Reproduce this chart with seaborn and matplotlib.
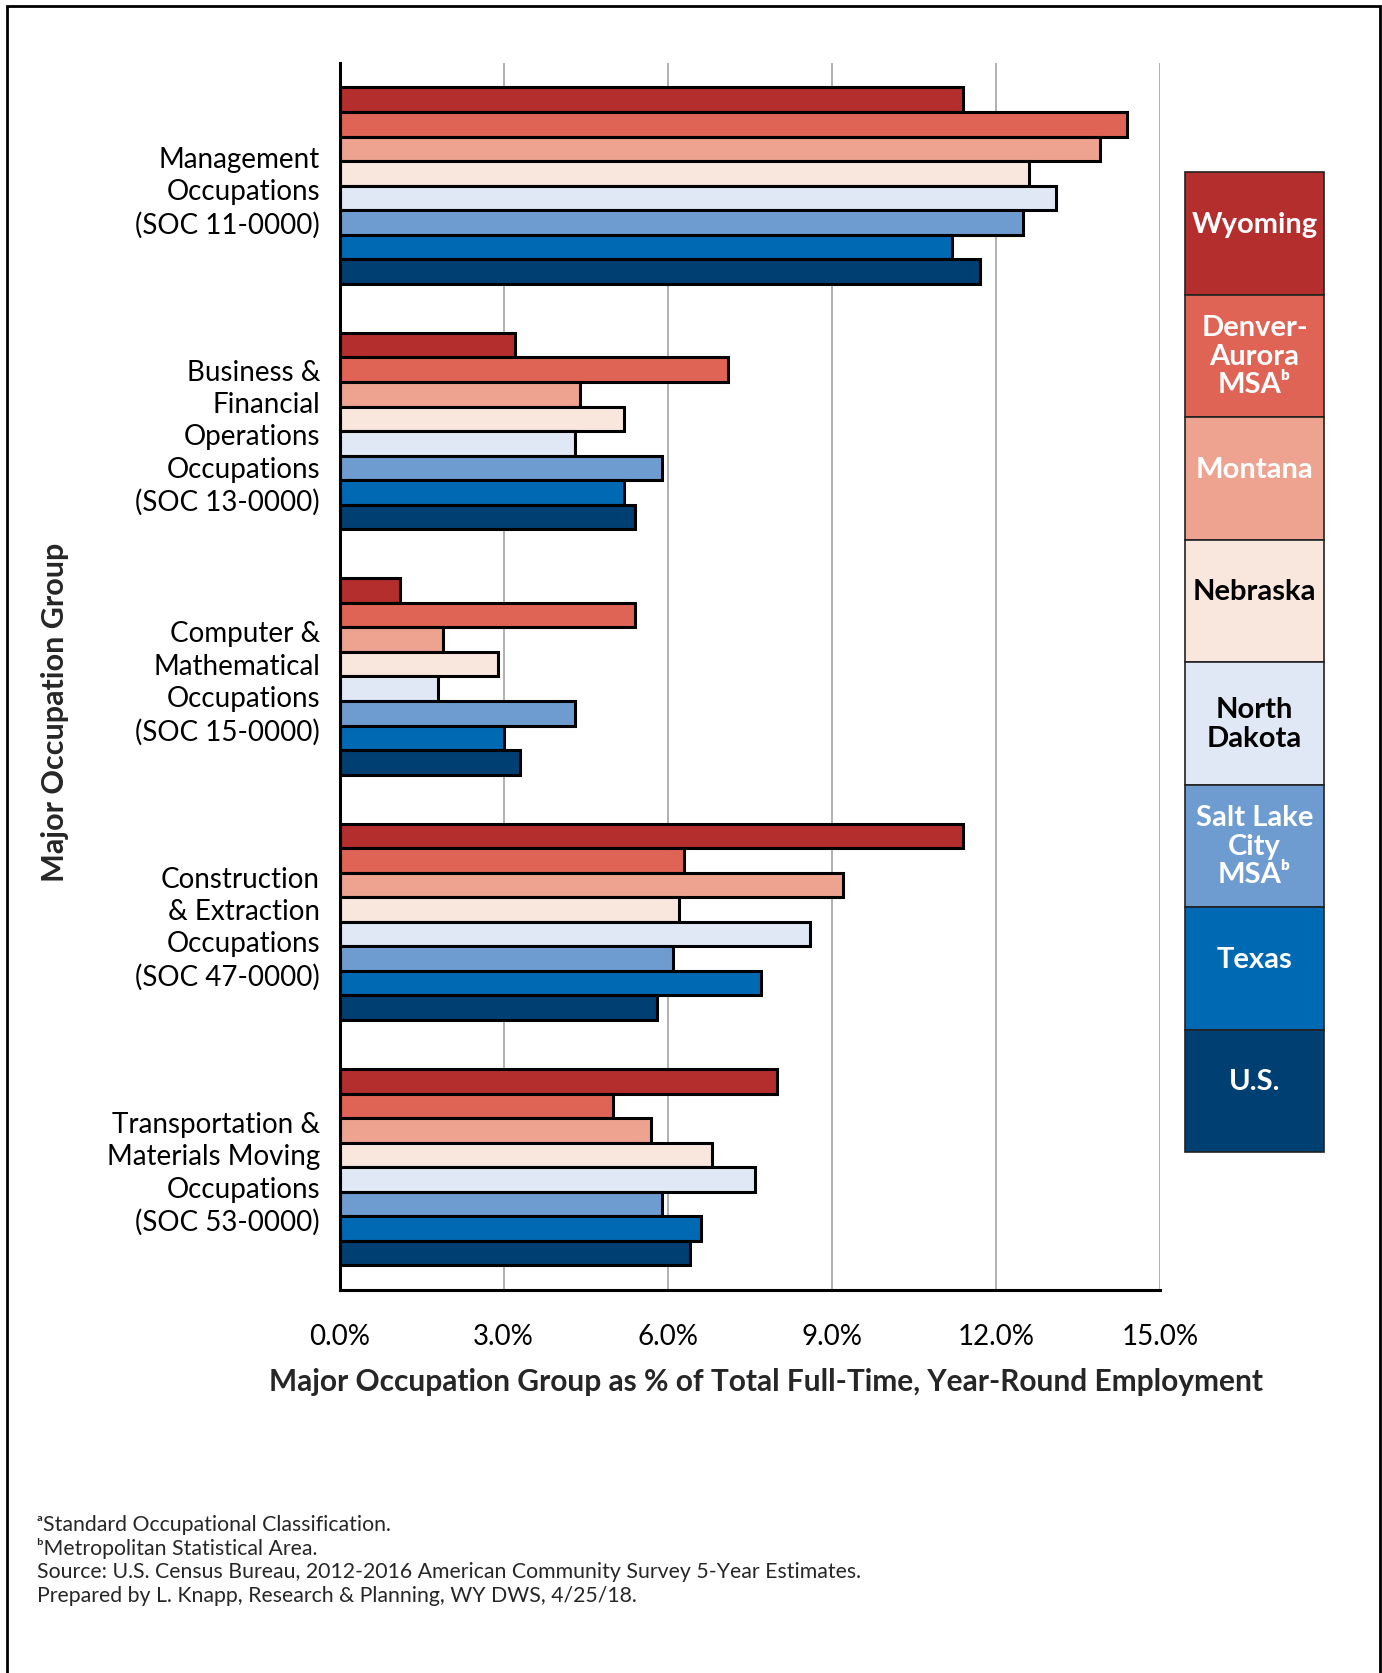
import numpy as np
import pandas as pd
import matplotlib.pyplot as plt
import seaborn as sns
from matplotlib.patches import Rectangle

# Occupation groups (y categories)
groups = ['Management\nOccupations\n(SOC 11-0000)',
          'Business &\nFinancial\nOperations\nOccupations\n(SOC 13-0000)',
          'Computer &\nMathematical\nOccupations\n(SOC 15-0000)',
          'Construction\n& Extraction\nOccupations\n(SOC 47-0000)',
          'Transportation &\nMaterials Moving\nOccupations\n(SOC 53-0000)']

regions = ['Wyoming', 'Denver-Aurora MSA', 'Montana', 'Nebraska',
           'North Dakota', 'Salt Lake City MSA', 'Texas', 'U.S.']
legend_labels = ['Wyoming', 'Denver-\nAurora\nMSAᵇ', 'Montana', 'Nebraska',
                 'North\nDakota', 'Salt Lake\nCity\nMSAᵇ', 'Texas', 'U.S.']
colors = ['#B52E2E', '#E06455', '#EDA390', '#F9E6DD',
          '#E1E8F5', '#6F9CD0', '#0069B4', '#003F72']
text_colors = ['white', 'white', 'white', 'black', 'black', 'white', 'white', 'white']

# % of total full-time, year-round employment, one list per region
wyoming = [11.4, 3.2, 1.1, 11.4, 8.0]
denver = [14.4, 7.1, 5.4, 6.3, 5.0]
montana = [13.9, 4.4, 1.9, 9.2, 5.7]
nebraska = [12.6, 5.2, 2.9, 6.2, 6.8]
north_dakota = [13.1, 4.3, 1.8, 8.6, 7.6]
salt_lake = [12.5, 5.9, 4.3, 6.1, 5.9]
texas = [11.2, 5.2, 3.0, 7.7, 6.6]
us = [11.7, 5.4, 3.3, 5.8, 6.4]

series = [wyoming, denver, montana, nebraska, north_dakota, salt_lake, texas, us]
rows = []
for reg, vals in zip(regions, series):
    for g, v in zip(groups, vals):
        rows.append({'group': g, 'region': reg, 'value': v})
df = pd.DataFrame(rows)

sns.set_style('white')
plt.rcParams['font.family'] = ['Lato', 'DejaVu Sans']

fig = plt.figure(figsize=(13.82, 16.74), dpi=100)
ax = fig.add_axes([0.2457, 0.2288, 0.5937, 0.733])

sns.barplot(data=df, x='value', y='group', hue='region', hue_order=regions,
            order=groups, palette=colors, orient='h', saturation=1,
            edgecolor='black', linewidth=2.2, legend=False, ax=ax)

ax.set_xlim(0, 15)
ax.set_xticks(np.arange(0, 15.1, 3))
ax.set_xticklabels([f'{v:.1f}%' for v in np.arange(0, 15.1, 3)])
ax.xaxis.grid(True, color='#AAAAAA', linewidth=1.3)
ax.yaxis.grid(False)
ax.set_axisbelow(True)
for s in ['top', 'right']:
    ax.spines[s].set_visible(False)
for s in ['left', 'bottom']:
    ax.spines[s].set_color('black')
    ax.spines[s].set_linewidth(2.2)
ax.tick_params(axis='both', length=0, colors='black')
ax.tick_params(axis='x', pad=24, labelsize=20)
ax.tick_params(axis='y', pad=14, labelsize=20)
for lab in ax.get_yticklabels():
    lab.set_horizontalalignment('right')
    lab.set_linespacing(1.3)
ax.set_xlabel('')
ax.set_ylabel('')

fig.text(0.554, 0.1744,
         'Major Occupation Group as % of Total Full-Time, Year-Round Employment',
         ha='center', va='center', fontsize=21.5, fontweight='bold')
fig.text(0.040, 1 - 712 / 1674, 'Major Occupation Group', rotation=90,
         ha='center', va='center', fontsize=22, fontweight='bold')

# legend column of coloured cells
lax = fig.add_axes([0.8575, 0.3112, 0.1006, 0.5854])
lax.set_xlim(0, 1)
lax.set_ylim(0, 8)
lax.axis('off')
for i, (lab, c, tc) in enumerate(zip(legend_labels, colors, text_colors)):
    y0 = 7 - i
    lax.add_patch(Rectangle((0, y0), 1, 1, facecolor=c, edgecolor='#222222',
                            linewidth=1.2, clip_on=False))
    off = 0.08 if '\n' not in lab else 0.0
    lax.text(0.5, y0 + 0.5 + off, lab, ha='center', va='center', color=tc,
             fontsize=21, fontweight='bold', linespacing=1.12)

# footnotes
notes = ['ᵃStandard Occupational Classification.',
         'ᵇMetropolitan Statistical Area.',
         'Source: U.S. Census Bureau, 2012-2016 American Community Survey 5-Year Estimates.',
         'Prepared by L. Knapp, Research & Planning, WY DWS, 4/25/18.']
for k, n in enumerate(notes):
    fig.text(37 / 1382, 1 - (1525 + 23.7 * k) / 1674, n, ha='left', va='center',
             fontsize=15.3)

# outer frame
fig.patches.append(Rectangle((0.005, -0.05), 0.9936, 1.0458, transform=fig.transFigure,
                             fill=False, edgecolor='black', linewidth=2))

fig.savefig('out.png', dpi=100)
